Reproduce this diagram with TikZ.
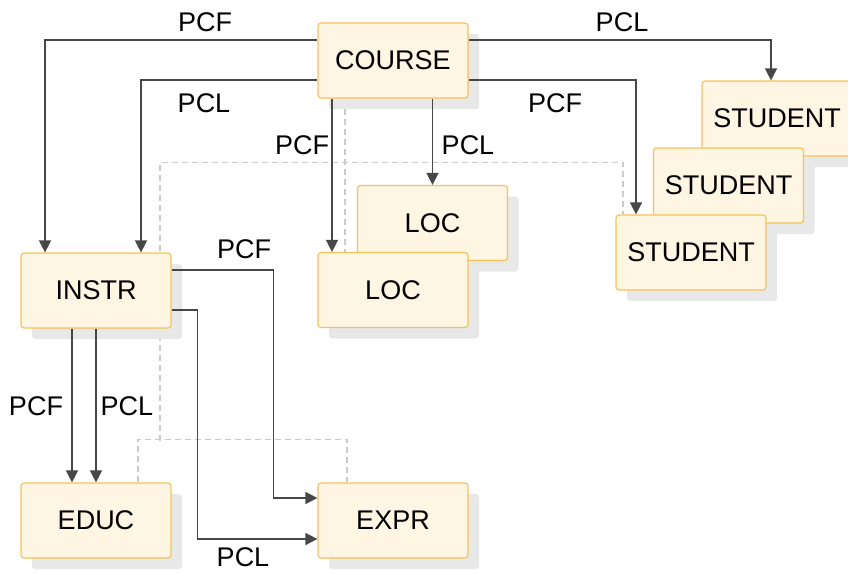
\documentclass[tikz,border=0pt]{standalone}
\usepackage{fontspec}
\setmainfont{Liberation Sans}
\usetikzlibrary{arrows.meta,calc,shadows,backgrounds}

\definecolor{boxfill}{HTML}{FEF5E3}
\definecolor{boxline}{HTML}{F6C35A}
\definecolor{boxshade}{HTML}{E8E8E8}
\definecolor{linkgray}{HTML}{474747}
\definecolor{dashgray}{HTML}{CACACA}

\tikzset{
  seg/.style={draw=boxline, fill=boxfill, line width=1.2pt, rounded corners=3pt,
    minimum width=150pt, minimum height=75pt, inner sep=0pt,
    drop shadow={shadow xshift=11pt, shadow yshift=-11pt, fill=boxshade, opacity=1}},
  link/.style={draw=linkgray, line width=1.4pt, -{Triangle[length=12pt,width=12pt]}},
  twin/.style={draw=dashgray, line width=1.2pt, dash pattern=on 6pt off 4pt},
  lab/.style={inner sep=0pt}
}

\begin{document}
\begin{tikzpicture}[x=1pt, y=-1pt, font=\fontsize{27}{32}\selectfont]
		\useasboundingbox (0,0) rectangle (848,573);

		% --- SEGMENTS (back copies first) ---
		\node[seg] (course) at (393,60.5) {COURSE};

		\node[seg] (stu1) at (777,118.5) {STUDENT};
		\node[seg] (stu2) at (728.5,185.5) {STUDENT};
		\node[seg] (stu3) at (691,252.5) {STUDENT};

		\node[seg] (locb) at (432.5,223) {LOC};
		\node[seg] (locf) at (393,290) {LOC};

		\node[seg] (instr) at (96,290.5) {INSTR};
		\node[seg] (educ) at (96,520.5) {EDUC};
		\node[seg] (expr) at (393,520.5) {EXPR};

		% Twin chains, dashed, behind the boxes
		\begin{pgfonlayer}{background}
		\draw[twin] ($(course.south)+(-48,0)$) -- ($(locf.north)+(-48,0)$);
		\draw[twin] ($(instr.south)+(64,112)$) -- ($(instr.north)+(64,-90)$) -| ($(stu3.north)+(-68,0)$);
		\draw[twin] ($(educ.north)+(42,0)$) -- ++(0,-43) -| ($(expr.north)+(-46,0)$);
		\end{pgfonlayer}

		% --- POINTERS FROM COURSE ---
		\draw[link] ($(course.west)+(0,-20.5)$) -| ($(instr.north)+(-51,0)$);
		\draw[link] ($(course.west)+(0,19.5)$) -| ($(instr.north)+(45,0)$);
		\draw[link] ($(course.east)+(0,-20.5)$) -| ($(stu1.north)+(-6,0)$);
		\draw[link] ($(course.east)+(0,19.5)$) -| ($(stu3.north)+(-55,0)$);
		\draw[link] ($(course.south)+(-61,0)$) -- ($(locf.north)+(-61,0)$);
		\draw[link] (locb.north |- course.south) -- (locb.north);

		% --- POINTERS FROM INSTR ---
		\draw[link] ($(instr.south)+(-24,0)$) -- ($(educ.north)+(-24,0)$);
		\draw[link] (instr.south) -- (educ.north);
		\draw[link] ($(instr.east)+(0,-20.5)$) -- ++(102,0) |- ($(expr.west)+(0,-22.5)$);
		\draw[link] ($(instr.east)+(0,19.5)$) -- ++(26,0) |- ($(expr.west)+(0,18.5)$);

		% Labels
		\node[lab] (pcfA) at (205,22) {PCF};
		\node[lab] (pclA) at (622,22) {PCL};
		\node[lab] (pclB) at (204,103) {PCL};
		\node[lab] (pcfB) at (555,103) {PCF};
		\node[lab] (pcfC) at (302,145) {PCF};
		\node[lab] (pclC) at (468,145) {PCL};
		\node[lab] (pcfD) at (244,249) {PCF};
		\node[lab] (pcfE) at (36,406) {PCF};
		\node[lab] (pclE) at (127,406) {PCL};
		\node[lab] (pclD) at (243,557) {PCL};
	\end{tikzpicture}
\end{document}
